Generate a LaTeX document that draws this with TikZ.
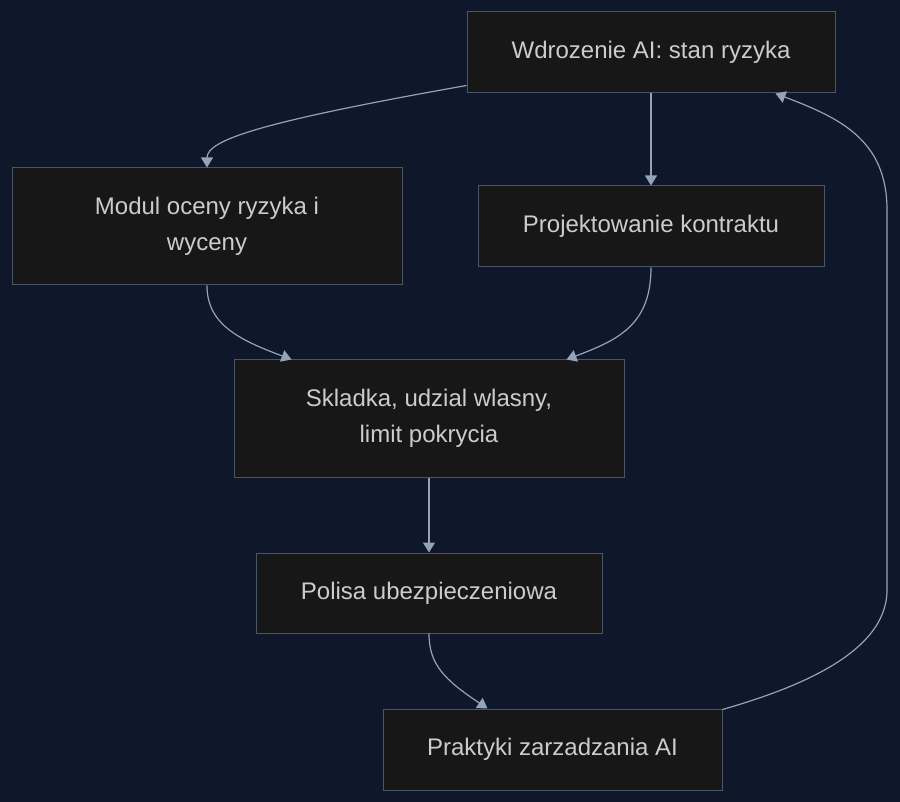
\documentclass[tikz,border=0pt]{standalone}
\usepackage{fontspec}
\setmainfont{Liberation Sans}
\usetikzlibrary{arrows.meta}
\definecolor{bgnavy}{HTML}{0F172A}
\definecolor{boxfill}{HTML}{171717}
\definecolor{boxline}{HTML}{4A5568}
\definecolor{edgecol}{HTML}{94A3B8}
\definecolor{txtcol}{HTML}{CCCCCC}

\tikzset{
  stepbox/.style={draw=boxline,fill=boxfill,line width=1pt,text=txtcol,
    inner sep=0pt,align=center,font=\fontsize{24}{36}\selectfont},
  flow/.style={draw=edgecol,line width=1.2pt,line join=round}
}

\begin{document}
\begin{tikzpicture}[x=1pt,y=-1pt,>={Triangle[length=10pt,width=12pt]}]
\fill[bgnavy] (0,0) rectangle (900,802);
\useasboundingbox (0,0) rectangle (900,802);
\node[stepbox,minimum width=368pt,minimum height=81pt] (wd) at (651,52.5) {Wdrozenie AI: stan ryzyka};
\node[stepbox,minimum width=390pt,minimum height=117pt] (mo) at (207,226.5) {Modul oceny ryzyka i\\wyceny};
\node[stepbox,minimum width=346pt,minimum height=81pt] (pr) at (651,226.5) {Projektowanie kontraktu};
\node[stepbox,minimum width=390pt,minimum height=117pt] (sk) at (429,418.5) {Skladka, udzial wlasny,\\limit pokrycia};
\node[stepbox,minimum width=346pt,minimum height=80pt] (po) at (429,593) {Polisa ubezpieczeniowa};
\node[stepbox,minimum width=339pt,minimum height=81pt] (pk) at (552.5,749.5) {Praktyki zarzadzania AI};
% connectors
\draw[flow,->] ([yshift=8pt]wd.south west) .. controls (260,122) and (207,140) .. (mo.north);
\draw[flow,->] (wd.south) -- (pr.north);
\draw[flow,->] (mo.south) .. controls (207,325) and (240,340) .. ([xshift=58pt]sk.north west);
\draw[flow,->] (pr.south) .. controls (651,325) and (618,340) .. ([xshift=-58pt]sk.north east);
\draw[flow,->] (sk.south) -- (po.north);
\draw[flow,->] (po.south) .. controls (429,665) and (445,680) .. ([xshift=105pt]pk.north west);
\draw[flow,->] ([yshift=-1pt]pk.north east) .. controls (790,690) and (887,655) .. (887,590)
  -- (887,210) .. controls (887,140) and (840,118) .. ([xshift=-60pt]wd.south east);
\end{tikzpicture}
\end{document}
